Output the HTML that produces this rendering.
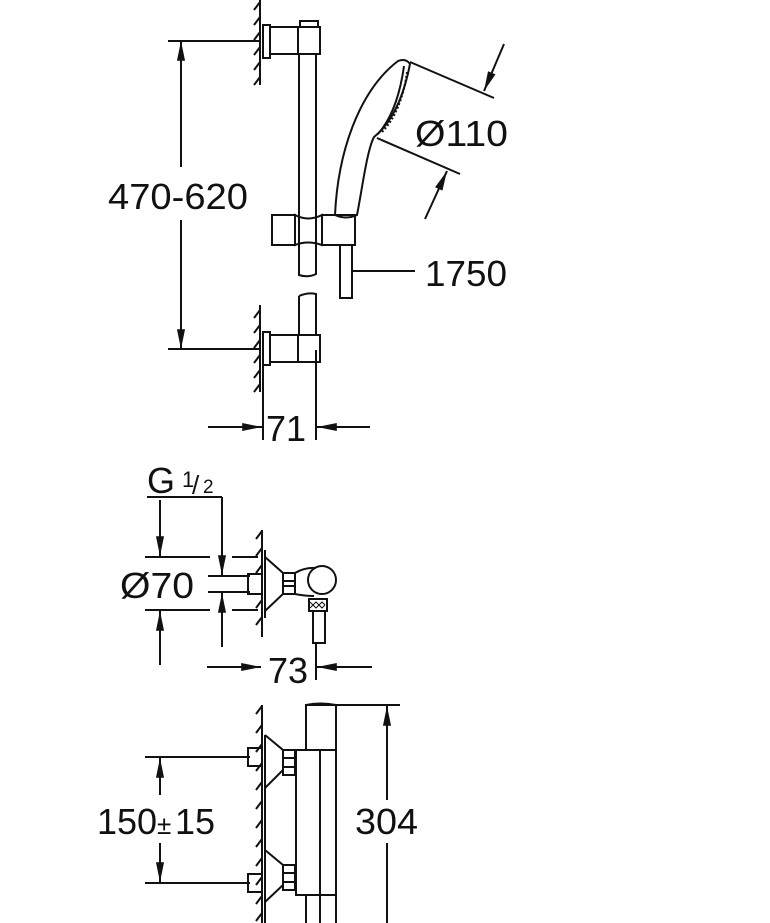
<!DOCTYPE html>
<html><head><meta charset="utf-8"><style>
html,body{margin:0;padding:0;background:#fff}
svg{display:block}
text{font-family:"Liberation Sans",sans-serif;fill:#111}
</style></head><body>
<svg width="770" height="923" viewBox="0 0 770 923" xmlns="http://www.w3.org/2000/svg">
<defs>
<marker id="b" viewBox="0 0 22 10" refX="22" refY="5" markerWidth="22" markerHeight="9" orient="auto-start-reverse" markerUnits="userSpaceOnUse"><path d="M0,0.5 L22,5 L0,9.5 z" fill="#111"/></marker>
</defs>
<g stroke="#111" stroke-width="2" fill="none">
<!-- TOP SECTION walls -->
<line x1="260" y1="0" x2="260" y2="85"/>
<path d="M260,2 l-6,8 M260,17 l-6,8 M260,32 l-6,8 M260,47 l-6,8 M260,62 l-6,8 M260,77 l-6,8"/>
<line x1="260" y1="305" x2="260" y2="392"/>
<path d="M260,310 l-6,8 M260,325 l-6,8 M260,340 l-6,8 M260,355 l-6,8 M260,370 l-6,8 M260,384 l-6,8"/>
<rect x="263" y="25" width="7" height="33"/>
<rect x="270" y="27" width="28" height="27"/>
<rect x="298" y="27" width="22" height="27"/>
<rect x="300" y="21" width="18" height="6"/>
<path d="M299,54 V275 Q308,278 316,274 V54"/>
<path d="M299,296 Q308,292 316,294 V335 M299,296 V335"/>
<rect x="263" y="332" width="7" height="33"/>
<rect x="270" y="335" width="28" height="27"/>
<rect x="298" y="335" width="22" height="27"/>
<rect x="272" y="215" width="23" height="30"/>
<path d="M295,215 Q308,222 322,215 V245 Q308,240 295,245 z"/>
<rect x="322" y="215" width="33" height="30"/>
<rect x="340" y="245" width="12" height="53"/>
<line x1="352" y1="271" x2="415" y2="271"/>
<path d="M335,215 C338,150 360,90 398,61 Q406,58 410,64 C405,90 395,120 374,137 C367,150 362,190 357,215 Q346,220 335,215 z"/>
<path d="M404,66 C400,95 392,118 378,134"/>
<path d="M407,72 C404,95 396,118 382,132" stroke-dasharray="2 2"/>
<line x1="410" y1="62" x2="494" y2="98"/>
<line x1="377" y1="138" x2="460" y2="174"/>
<line x1="504" y1="44" x2="484" y2="91" marker-end="url(#b)"/>
<line x1="425" y1="219" x2="447" y2="171" marker-end="url(#b)"/>
<line x1="168" y1="41" x2="260" y2="41"/>
<line x1="168" y1="349" x2="260" y2="349"/>
<line x1="181" y1="167" x2="181" y2="41" marker-end="url(#b)"/>
<line x1="181" y1="220" x2="181" y2="349" marker-end="url(#b)"/>
<line x1="263" y1="350" x2="263" y2="440"/>
<line x1="316" y1="350" x2="316" y2="440"/>
<line x1="208" y1="427" x2="262" y2="427" marker-end="url(#b)"/>
<line x1="370" y1="427" x2="317" y2="427" marker-end="url(#b)"/>

<!-- MIDDLE SECTION -->
<line x1="147" y1="497" x2="222" y2="497"/>
<line x1="222" y1="497" x2="222" y2="575" marker-end="url(#b)"/>
<line x1="222" y1="647" x2="222" y2="593" marker-end="url(#b)"/>
<line x1="160" y1="500" x2="160" y2="556" marker-end="url(#b)"/>
<line x1="160" y1="665" x2="160" y2="611" marker-end="url(#b)"/>
<path d="M145,557 H210 M232,557 H258 M208,576 H250 M208,592 H250 M145,610 H210 M232,610 H258"/>
<line x1="262" y1="530" x2="262" y2="637"/>
<line x1="265" y1="550" x2="265" y2="618"/>
<path d="M262,531 l-6,8 M262,548 l-6,8 M262,565 l-6,8 M262,600 l-6,8 M262,617 l-6,8"/>
<rect x="248" y="574" width="14" height="20"/>
<path d="M265,557 L283,573 V594 L265,611"/>
<rect x="283" y="573" width="12" height="21"/>
<line x1="283" y1="581" x2="295" y2="581"/><line x1="283" y1="586" x2="295" y2="586"/>
<path d="M295,573 Q305,567 316,568 M295,594 Q305,596 314,596"/>
<circle cx="322" cy="580" r="14"/>
<rect x="309" y="599" width="18" height="12"/>
<path d="M310,602 l3,3 l3,-3 l3,3 l3,-3 l3,3 M310,608 l3,-3 l3,3 l3,-3 l3,3 l3,-3" stroke-width="1"/>
<rect x="313" y="611" width="12" height="32"/>
<line x1="316" y1="643" x2="316" y2="680"/>
<line x1="207" y1="667" x2="261" y2="667" marker-end="url(#b)"/>
<line x1="372" y1="667" x2="317" y2="667" marker-end="url(#b)"/>

<!-- BOTTOM SECTION -->
<line x1="262" y1="705" x2="262" y2="923"/>
<line x1="265" y1="735" x2="265" y2="923"/>
<path d="M262,706 l-6,8 M262,725 l-6,8 M262,744 l-6,8 M262,763 l-6,8 M262,782 l-6,8 M262,801 l-6,8 M262,820 l-6,8 M262,839 l-6,8 M262,858 l-6,8 M262,877 l-6,8 M262,896 l-6,8 M262,913 l-6,8"/>
<rect x="306" y="705" width="30" height="45"/>
<path d="M306,705 Q320,702 336,705"/>
<rect x="296" y="750" width="40" height="145"/>
<line x1="320" y1="750" x2="320" y2="895"/>
<path d="M306,895 V923 M336,895 V923 M320,895 V923"/>
<rect x="248" y="748" width="14" height="18"/>
<path d="M265,735 L283,750 V770 L265,788"/>
<rect x="283" y="750" width="12" height="25"/>
<line x1="283" y1="758" x2="295" y2="758"/><line x1="283" y1="767" x2="295" y2="767"/>
<rect x="248" y="874" width="14" height="18"/>
<path d="M265,850 L283,865 V885 L265,902"/>
<rect x="283" y="865" width="12" height="25"/>
<line x1="283" y1="873" x2="295" y2="873"/><line x1="283" y1="882" x2="295" y2="882"/>
<line x1="145" y1="757" x2="250" y2="757"/>
<line x1="145" y1="883" x2="250" y2="883"/>
<line x1="160" y1="795" x2="160" y2="758" marker-end="url(#b)"/>
<line x1="160" y1="843" x2="160" y2="882" marker-end="url(#b)"/>
<line x1="336" y1="705" x2="400" y2="705"/>
<line x1="387" y1="800" x2="387" y2="706" marker-end="url(#b)"/>
<line x1="387" y1="843" x2="387" y2="923"/>
</g>
<g font-size="36">
<text x="108" y="209" textLength="140" lengthAdjust="spacingAndGlyphs">470-620</text>
<text x="425" y="286" textLength="82" lengthAdjust="spacingAndGlyphs">1750</text>
<text x="415" y="146" textLength="93" lengthAdjust="spacingAndGlyphs">Ø110</text>
<text x="266" y="441">71</text>
<text x="147" y="493">G</text>
<text x="120" y="598" textLength="74" lengthAdjust="spacingAndGlyphs">Ø70</text>
<text x="268" y="683">73</text>
<text x="97" y="834">150</text>
<text x="175" y="834">15</text>
<text x="355" y="834" textLength="63" lengthAdjust="spacingAndGlyphs">304</text>
</g>
<text x="182" y="487" font-size="22">1</text>
<text x="192" y="494" font-size="26">/</text>
<text x="203" y="493" font-size="19">2</text>
<text x="157" y="834" font-size="26">±</text>
</svg>
</body></html>
